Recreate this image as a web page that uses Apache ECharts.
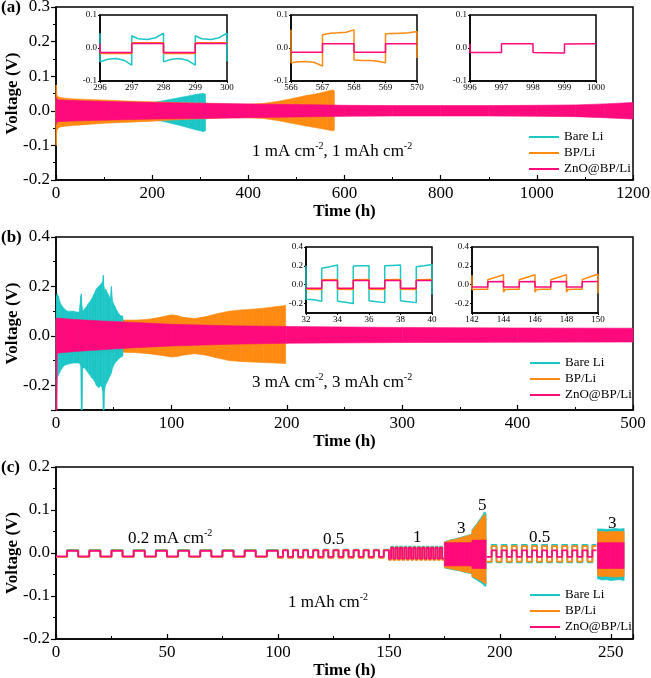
<!DOCTYPE html>
<html><head><meta charset="utf-8">
<script src="https://cdn.jsdelivr.net/npm/echarts@6/dist/echarts.min.js"></script>
<style>html,body{margin:0;padding:0;background:#fff}#c{width:651px;height:678px}</style>
</head><body><div id="c"></div>
<script>
const CYAN = '#1DC6C6', ORANGE = '#FF8A12', PINK = '#FF0A7C';
const FONT = 'Liberation Serif';
const NAMES = ['Bare Li', 'BP/Li', 'ZnO@BP/Li'];

// ---------- Panel (a): 1 mA cm-2, envelope of the cycling band (h, V) ----------
const a_bare_t  = [0, 2, 10, 50, 100, 150, 200, 215, 230, 245, 260, 275, 290, 300, 306, 311];
const a_bare_hi = [0.035, 0.03, 0.026, 0.024, 0.022, 0.021, 0.024, 0.027, 0.031, 0.035, 0.039, 0.043, 0.047, 0.049, 0.05, 0.048];
const a_bare_lo = [-0.04, -0.034, -0.028, -0.026, -0.024, -0.023, -0.026, -0.029, -0.033, -0.038, -0.043, -0.049, -0.055, -0.058, -0.06, -0.058];
const a_bp_t  = [0, 0.5, 1, 2, 5, 10, 30, 60, 100, 150, 200, 250, 300, 350, 400, 430, 460, 490, 520, 545, 565, 575, 579];
const a_bp_hi = [0.07, 0.075, 0.06, 0.045, 0.04, 0.038, 0.035, 0.033, 0.031, 0.028, 0.026, 0.024, 0.022, 0.02, 0.019, 0.021, 0.027, 0.035, 0.044, 0.05, 0.057, 0.06, 0.058];
const a_bp_lo = [-0.1, -0.1, -0.07, -0.055, -0.05, -0.046, -0.043, -0.04, -0.036, -0.033, -0.03, -0.026, -0.023, -0.021, -0.02, -0.022, -0.028, -0.036, -0.044, -0.05, -0.055, -0.058, -0.056];
const a_zno_t  = [0, 1, 3, 10, 50, 100, 200, 300, 400, 500, 600, 700, 800, 900, 1000, 1080, 1140, 1200];
const a_zno_hi = [0.04, 0.034, 0.032, 0.031, 0.029, 0.027, 0.024, 0.022, 0.02, 0.018, 0.016, 0.015, 0.015, 0.015, 0.016, 0.017, 0.02, 0.024];
const a_zno_lo = [-0.04, -0.034, -0.032, -0.031, -0.029, -0.027, -0.024, -0.022, -0.02, -0.018, -0.016, -0.015, -0.015, -0.015, -0.016, -0.017, -0.02, -0.024];

// insets of (a)
const in_a1_bare_t = [296, 296, 296.25, 296.5, 296.75, 297, 297, 297.2, 297.5, 297.75, 298, 298, 298.25, 298.5, 298.75, 299, 299, 299.2, 299.5, 299.75, 300, 300];
const in_a1_bare_v = [0.045, -0.042, -0.034, -0.032, -0.037, -0.052, 0.037, 0.028, 0.026, 0.031, 0.045, -0.042, -0.034, -0.032, -0.037, -0.052, 0.037, 0.028, 0.026, 0.031, 0.045, -0.04];
const in_a1_bp_t = [296, 297, 297, 298, 298, 299, 299, 300];
const in_a1_bp_v = [-0.017, -0.017, 0.016, 0.016, -0.017, -0.017, 0.016, 0.016];
const in_a1_zno_t = [296, 296, 297, 297, 298, 298, 299, 299, 300];
const in_a1_zno_v = [0.014, -0.014, -0.014, 0.014, 0.014, -0.014, -0.014, 0.014, 0.014];
const in_a2_bp_t = [566, 566, 566.25, 566.5, 566.75, 567, 567, 567.25, 567.5, 567.75, 568, 568, 568.25, 568.5, 568.75, 569, 569, 569.25, 569.5, 569.75, 570, 570];
const in_a2_bp_v = [0.055, -0.045, -0.042, -0.041, -0.044, -0.055, 0.04, 0.045, 0.046, 0.048, 0.055, -0.036, -0.038, -0.038, -0.04, -0.045, 0.043, 0.044, 0.045, 0.046, 0.05, -0.03];
const in_a2_zno_t = [566, 567, 567, 568, 568, 569, 569, 570];
const in_a2_zno_v = [-0.013, -0.013, 0.013, 0.013, -0.013, -0.013, 0.013, 0.013];
const in_a3_zno_t = [996, 996, 997, 997, 998, 998, 999, 999, 1000];
const in_a3_zno_v = [0.013, -0.014, -0.014, 0.013, 0.013, -0.014, -0.015, 0.012, 0.013];

// ---------- Panel (b): 3 mA cm-2 ----------
const b_bare_t  = [0, 0.5, 1, 2, 4, 7, 10, 15, 20, 21.5, 22, 22.5, 23, 25, 28, 31, 33, 35, 37, 39, 40.5, 41, 41.5, 42, 43, 45, 47, 48, 49, 51, 53, 55, 57, 58];
const b_bare_hi = [0.06, 0.16, 0.17, 0.16, 0.13, 0.11, 0.1, 0.1, 0.095, 0.16, 0.17, 0.12, 0.1, 0.11, 0.13, 0.15, 0.17, 0.19, 0.2, 0.21, 0.22, 0.245, 0.2, 0.18, 0.19, 0.17, 0.15, 0.2, 0.14, 0.12, 0.1, 0.085, 0.08, 0.08];
const b_bare_lo = [-0.3, -0.3, -0.17, -0.16, -0.14, -0.12, -0.115, -0.11, -0.11, -0.12, -0.3, -0.3, -0.13, -0.13, -0.15, -0.17, -0.18, -0.2, -0.21, -0.2, -0.22, -0.3, -0.3, -0.22, -0.2, -0.18, -0.16, -0.15, -0.13, -0.11, -0.1, -0.09, -0.085, -0.08];
const b_bp_t  = [0, 0.5, 1, 3, 10, 20, 40, 58, 70, 80, 90, 100, 105, 110, 120, 130, 140, 150, 160, 170, 180, 190, 199];
const b_bp_hi = [0.07, 0.07, 0.075, 0.075, 0.072, 0.07, 0.066, 0.064, 0.064, 0.067, 0.075, 0.085, 0.082, 0.075, 0.07, 0.078, 0.09, 0.1, 0.105, 0.108, 0.112, 0.118, 0.123];
const b_bp_lo = [-0.3, -0.3, -0.075, -0.075, -0.073, -0.071, -0.069, -0.066, -0.068, -0.072, -0.078, -0.086, -0.084, -0.078, -0.072, -0.078, -0.09, -0.1, -0.104, -0.106, -0.108, -0.11, -0.112];
const b_zno_t  = [0, 0.5, 1, 5, 20, 40, 60, 100, 150, 200, 300, 400, 500];
const b_zno_hi = [0.07, 0.07, 0.072, 0.07, 0.065, 0.06, 0.056, 0.047, 0.041, 0.038, 0.034, 0.032, 0.031];
const b_zno_lo = [-0.3, -0.3, -0.07, -0.068, -0.062, -0.056, -0.05, -0.041, -0.034, -0.03, -0.027, -0.026, -0.025];

// insets of (b)
const in_b1_bare_t = [32, 32, 32.5, 33, 33, 33.5, 34, 34, 34.5, 35, 35, 35.5, 36, 36, 36.5, 37, 37, 37.5, 38, 38, 38.5, 39, 39, 39.5, 40, 40];
const in_b1_bare_v = [0.2, -0.155, -0.16, -0.175, 0.175, 0.19, 0.21, -0.175, -0.185, -0.2, 0.198, 0.2, 0.2, -0.17, -0.18, -0.19, 0.2, 0.205, 0.21, -0.17, -0.18, -0.19, 0.19, 0.2, 0.215, -0.1];
const in_b1_t = [32, 33, 33, 34, 34, 35, 35, 36, 36, 37, 37, 38, 38, 39, 39, 40];
const in_b1_bp_v  = [-0.048, -0.05, 0.052, 0.056, -0.048, -0.05, 0.052, 0.056, -0.048, -0.05, 0.052, 0.056, -0.048, -0.05, 0.052, 0.056];
const in_b1_zno_v = [-0.038, -0.038, 0.044, 0.046, -0.038, -0.038, 0.044, 0.046, -0.038, -0.038, 0.044, 0.046, -0.038, -0.038, 0.044, 0.046];
const in_b2_bp_t = [142, 142, 142.5, 143, 143, 143.5, 144, 144, 144.1, 144.5, 145, 145, 145.5, 146, 146, 146.1, 146.5, 147, 147, 147.5, 148, 148, 148.1, 148.5, 149, 149, 149.5, 150, 150];
const in_b2_bp_v = [0.1, -0.05, -0.048, -0.048, 0.052, 0.08, 0.105, -0.08, -0.05, -0.048, -0.048, 0.052, 0.08, 0.105, -0.08, -0.05, -0.048, -0.048, 0.052, 0.08, 0.106, -0.08, -0.05, -0.048, -0.048, 0.055, 0.085, 0.11, -0.09];
const in_b2_zno_t = [142, 143, 143, 144, 144, 145, 145, 146, 146, 147, 147, 148, 148, 149, 149, 150];
const in_b2_zno_v = [-0.025, -0.025, 0.032, 0.034, -0.025, -0.025, 0.032, 0.034, -0.025, -0.025, 0.032, 0.034, -0.025, -0.025, 0.032, 0.034];

// ---------- Panel (c): rate test, 1 mAh cm-2 ----------
// switching times (h) of the square waves: 0.2, 0.5, 1 and 0.5 mA cm-2 steps
const c_sw_02  = [0, 5, 10, 15, 20, 25, 30, 35, 40, 45, 50, 55, 60, 65, 70, 75, 80, 85, 90, 95, 100];
const c_sw_05a = [100, 102.3, 104.5, 106.8, 109.1, 111.4, 113.6, 115.9, 118.2, 120.5, 122.7, 125, 127.3, 129.5, 131.8, 134.1, 136.4, 138.6, 140.9, 143.2, 145.5, 147.7, 150];
const c_sw_1   = [150, 151, 152, 153, 154, 155, 156, 157, 158, 159, 160, 161, 162, 163, 164, 165, 166, 167, 168, 169, 170, 171, 172, 173, 174, 175];
const c_sw_05b = [194, 196.3, 198.5, 200.8, 203.1, 205.4, 207.6, 209.9, 212.2, 214.5, 216.7, 219, 221.3, 223.5, 225.8, 228.1, 230.4, 232.6, 234.9, 237.2, 239.5, 241.7, 243.5];
// plateau levels for the four square-wave steps [0.2, 0.5, 1, 0.5]
const c_zno_hi  = [0.005, 0.006, 0.012, 0.006];
const c_zno_lo  = [-0.008, -0.009, -0.013, -0.009];
const c_bp_hi   = [0.006, 0.007, 0.013, 0.016];
const c_bp_lo   = [-0.009, -0.011, -0.016, -0.02];
const c_bare_hi = [0.007, 0.008, 0.015, 0.019];
const c_bare_lo = [-0.009, -0.01, -0.015, -0.022];
// dense blocks (3 and 5 mA cm-2): band envelopes
const c_blk1_t = [175, 176, 178, 180, 182, 184, 186, 187.4, 187.6, 189, 190.5, 192, 193, 193.5, 193.8];
const c_zno_blk1_hi  = [0.024, 0.024, 0.024, 0.024, 0.024, 0.024, 0.024, 0.024, 0.03, 0.03, 0.03, 0.03, 0.03, 0.03, 0.03];
const c_zno_blk1_lo  = [-0.03, -0.03, -0.03, -0.03, -0.03, -0.03, -0.03, -0.03, -0.036, -0.036, -0.036, -0.036, -0.036, -0.036, -0.036];
const c_bp_blk1_hi   = [0.025, 0.027, 0.03, 0.032, 0.035, 0.038, 0.041, 0.043, 0.053, 0.062, 0.072, 0.082, 0.09, 0.085, 0.08];
const c_bp_blk1_lo   = [-0.034, -0.035, -0.037, -0.039, -0.041, -0.044, -0.046, -0.047, -0.055, -0.058, -0.062, -0.066, -0.07, -0.072, -0.07];
const c_bare_blk1_hi = [0.026, 0.028, 0.031, 0.033, 0.036, 0.039, 0.042, 0.044, 0.055, 0.064, 0.075, 0.086, 0.095, 0.094, 0.09];
const c_bare_blk1_lo = [-0.035, -0.036, -0.038, -0.04, -0.042, -0.045, -0.047, -0.048, -0.057, -0.061, -0.066, -0.071, -0.076, -0.078, -0.075];
const c_blk2_t = [244, 246, 248, 250, 252, 254, 256];
const c_zno_blk2_hi  = [0.024, 0.024, 0.024, 0.024, 0.024, 0.024, 0.024];
const c_zno_blk2_lo  = [-0.036, -0.036, -0.036, -0.036, -0.036, -0.036, -0.036];
const c_bp_blk2_hi   = [0.05, 0.05, 0.049, 0.05, 0.05, 0.05, 0.05];
const c_bp_blk2_lo   = [-0.053, -0.055, -0.054, -0.055, -0.056, -0.055, -0.054];
const c_bare_blk2_hi = [0.056, 0.056, 0.055, 0.056, 0.057, 0.056, 0.057];
const c_bare_blk2_lo = [-0.06, -0.063, -0.062, -0.064, -0.063, -0.062, -0.064];

// ---------- helpers ----------
function pairs(t, v) { return t.map((x, i) => [x, v[i]]); }
function steps(sw, lo, hi) {
  const d = [];
  for (let i = 0; i < sw.length - 1; i++) d.push([sw[i], i % 2 === 0 ? lo : hi]);
  d.push([sw[sw.length - 1], (sw.length - 2) % 2 === 0 ? lo : hi]);
  return d;
}
function band(name, color, gi, t, hi, lo) {
  const data = [];
  for (let i = 0; i < t.length - 1; i++) data.push([t[i], hi[i], lo[i], t[i + 1], hi[i + 1], lo[i + 1]]);
  return {
    type: 'custom', name, xAxisIndex: gi, yAxisIndex: gi, itemStyle: { color }, silent: true,
    encode: { x: [0, 3], y: [1, 2, 4, 5] },
    renderItem(params, api) {
      const pts = [api.coord([api.value(0), api.value(1)]), api.coord([api.value(3), api.value(4)]),
                   api.coord([api.value(3), api.value(5)]), api.coord([api.value(0), api.value(2)])];
      const cs = params.coordSys;
      return { type: 'polygon', shape: { points: echarts.graphic.clipPointsByRect(pts, { x: cs.x, y: cs.y, width: cs.width, height: cs.height }) },
               style: { fill: color, stroke: color, lineWidth: 0.6 } };
    },
    data
  };
}
function line(name, color, gi, data, w, step) {
  const s = { type: 'line', name, xAxisIndex: gi, yAxisIndex: gi, data, showSymbol: false, symbol: 'none',
    lineStyle: { color, width: w }, itemStyle: { color }, silent: true, clip: true };
  if (step) s.step = step;
  return s;
}

// ---------- axes ----------
const labelStyle = { color: '#000', fontFamily: FONT, fontSize: 17 };
const nameStyle = { color: '#000', fontFamily: FONT, fontSize: 17, fontWeight: 'bold' };
const plain = v => String(v);
function mkX(gi, min, max, interval, nameGap, extraLabel) {
  return { type: 'value', gridIndex: gi, min, max, interval,
    axisLine: { show: true, onZero: false, lineStyle: { color: '#000', width: 1.5 } },
    axisTick: { show: true, inside: true, length: 5, lineStyle: { color: '#000', width: 1.2 } },
    minorTick: { show: true, splitNumber: 2, length: 3, lineStyle: { color: '#000', width: 1 } },
    splitLine: { show: false }, minorSplitLine: { show: false },
    axisLabel: Object.assign({ margin: 5, formatter: plain }, labelStyle, extraLabel || {}),
    name: 'Time (h)', nameLocation: 'middle', nameGap, nameTextStyle: nameStyle };
}
function mkY(gi, min, max, interval, extra) {
  return Object.assign({ type: 'value', gridIndex: gi, min, max, interval,
    axisLine: { show: true, onZero: false, lineStyle: { color: '#000', width: 1.5 } },
    axisTick: { show: true, inside: false, length: 5, lineStyle: { color: '#000', width: 1.2 } },
    minorTick: { show: true, splitNumber: 2, length: 3, lineStyle: { color: '#000', width: 1 } },
    splitLine: { show: false }, minorSplitLine: { show: false },
    axisLabel: Object.assign({ margin: 6, formatter: v => v.toFixed(1) }, labelStyle),
    name: 'Voltage (V)', nameLocation: 'middle', nameGap: 35, nameMoveOverlap: false, nameTextStyle: nameStyle }, extra || {});
}
const inLabel = { color: '#000', fontFamily: FONT, fontSize: 9 };
function inX(gi, min, max, interval) {
  return { type: 'value', gridIndex: gi, min, max, interval,
    axisLine: { show: true, onZero: false, lineStyle: { color: '#000', width: 1.5 } },
    axisTick: { show: true, inside: false, length: 2, lineStyle: { color: '#000' } },
    splitLine: { show: false }, axisLabel: Object.assign({ margin: 2, formatter: plain }, inLabel) };
}
function inY(gi, min, max, interval, extra) {
  return Object.assign({ type: 'value', gridIndex: gi, min, max, interval,
    axisLine: { show: true, onZero: false, lineStyle: { color: '#000', width: 1.5 } },
    axisTick: { show: true, inside: false, length: 2, lineStyle: { color: '#000' } },
    splitLine: { show: false }, axisLabel: Object.assign({ margin: 3, formatter: v => v.toFixed(1) }, inLabel) }, extra || {});
}

const gridStyle = { show: true, borderColor: '#000', borderWidth: 1.5, backgroundColor: 'transparent', containLabel: false, outerBoundsMode: 'none' };
const grids = [
  { left: 56, top: 7, width: 577, height: 173 },
  { left: 56, top: 237, width: 577, height: 173 },
  { left: 56, top: 467, width: 577, height: 172 },
  { left: 100, top: 15, width: 127, height: 66 },
  { left: 291, top: 15, width: 126, height: 66 },
  { left: 470, top: 15, width: 126, height: 66 },
  { left: 306, top: 247, width: 126, height: 66 },
  { left: 472, top: 247, width: 126, height: 66 }
].map(g => Object.assign({}, gridStyle, g));

const xAxes = [
  mkX(0, 0, 1200, 200, 20),
  mkX(1, 0, 500, 100, 22),
  mkX(2, 0, 260, 50, 20, { showMaxLabel: false }),
  inX(3, 296, 300, 1), inX(4, 566, 570, 1), inX(5, 996, 1000, 1),
  inX(6, 32, 40, 2), inX(7, 142, 150, 2)
];
const yAxes = [
  mkY(0, -0.2, 0.3, 0.1),
  mkY(1, -0.3, 0.4, undefined, { splitNumber: 3, axisLabel: Object.assign({ margin: 6, showMinLabel: false, formatter: v => v.toFixed(1) }, labelStyle) }),
  mkY(2, -0.2, 0.2, 0.1),
  inY(3, -0.1, 0.1, 0.1), inY(4, -0.1, 0.1, 0.1), inY(5, -0.1, 0.1, 0.1),
  inY(6, -0.3, 0.4, undefined, { splitNumber: 3, axisLabel: Object.assign({ margin: 3, showMinLabel: false, formatter: v => v.toFixed(1) }, inLabel) }),
  inY(7, -0.3, 0.4, undefined, { splitNumber: 3, axisLabel: Object.assign({ margin: 3, showMinLabel: false, formatter: v => v.toFixed(1) }, inLabel) })
];

// ---------- series ----------
const series = [];
// (a)
series.push(band(NAMES[0], CYAN, 0, a_bare_t, a_bare_hi, a_bare_lo));
series.push(band(NAMES[1], ORANGE, 0, a_bp_t, a_bp_hi, a_bp_lo));
series.push(band(NAMES[2], PINK, 0, a_zno_t, a_zno_hi, a_zno_lo));
// (b)
series.push(band(NAMES[1], ORANGE, 1, b_bp_t, b_bp_hi, b_bp_lo));
series.push(band(NAMES[0], CYAN, 1, b_bare_t, b_bare_hi, b_bare_lo));
series.push(band(NAMES[2], PINK, 1, b_zno_t, b_zno_hi, b_zno_lo));
// (c)
function cSteps(lo, hi) {
  return steps(c_sw_02, lo[0], hi[0]).concat(steps(c_sw_05a, lo[1], hi[1]), steps(c_sw_1, lo[2], hi[2]));
}
series.push(line(NAMES[0], CYAN, 2, cSteps(c_bare_lo, c_bare_hi), 1.8, 'end'));
series.push(line(NAMES[0], CYAN, 2, steps(c_sw_05b, c_bare_lo[3], c_bare_hi[3]), 1.8, 'end'));
series.push(band(NAMES[0], CYAN, 2, c_blk1_t, c_bare_blk1_hi, c_bare_blk1_lo));
series.push(band(NAMES[0], CYAN, 2, c_blk2_t, c_bare_blk2_hi, c_bare_blk2_lo));
series.push(line(NAMES[1], ORANGE, 2, cSteps(c_bp_lo, c_bp_hi), 1.8, 'end'));
series.push(line(NAMES[1], ORANGE, 2, steps(c_sw_05b, c_bp_lo[3], c_bp_hi[3]), 1.8, 'end'));
series.push(band(NAMES[1], ORANGE, 2, c_blk1_t, c_bp_blk1_hi, c_bp_blk1_lo));
series.push(band(NAMES[1], ORANGE, 2, c_blk2_t, c_bp_blk2_hi, c_bp_blk2_lo));
series.push(line(NAMES[2], PINK, 2, cSteps(c_zno_lo, c_zno_hi), 1.8, 'end'));
series.push(line(NAMES[2], PINK, 2, steps(c_sw_05b, c_zno_lo[3], c_zno_hi[3]), 1.8, 'end'));
series.push(band(NAMES[2], PINK, 2, c_blk1_t, c_zno_blk1_hi, c_zno_blk1_lo));
series.push(band(NAMES[2], PINK, 2, c_blk2_t, c_zno_blk2_hi, c_zno_blk2_lo));
// insets
series.push(line(NAMES[0], CYAN, 3, pairs(in_a1_bare_t, in_a1_bare_v), 1.5));
series.push(line(NAMES[1], ORANGE, 3, pairs(in_a1_bp_t, in_a1_bp_v), 1.5));
series.push(line(NAMES[2], PINK, 3, pairs(in_a1_zno_t, in_a1_zno_v), 1.5));
series.push(line(NAMES[1], ORANGE, 4, pairs(in_a2_bp_t, in_a2_bp_v), 1.5));
series.push(line(NAMES[2], PINK, 4, pairs(in_a2_zno_t, in_a2_zno_v), 1.5));
series.push(line(NAMES[2], PINK, 5, pairs(in_a3_zno_t, in_a3_zno_v), 1.5));
series.push(line(NAMES[0], CYAN, 6, pairs(in_b1_bare_t, in_b1_bare_v), 1.5));
series.push(line(NAMES[1], ORANGE, 6, pairs(in_b1_t, in_b1_bp_v), 1.5));
series.push(line(NAMES[2], PINK, 6, pairs(in_b1_t, in_b1_zno_v), 1.5));
series.push(line(NAMES[1], ORANGE, 7, pairs(in_b2_bp_t, in_b2_bp_v), 1.5));
series.push(line(NAMES[2], PINK, 7, pairs(in_b2_zno_t, in_b2_zno_v), 1.5));

// ---------- legends ----------
function mkLegend(left, top) {
  return { orient: 'vertical', left, top, padding: 0, itemGap: 0, icon: 'rect', itemWidth: 30, itemHeight: 2,
    selectedMode: false, data: NAMES,
    textStyle: { fontFamily: FONT, fontSize: 13, color: '#000', lineHeight: 16 } };
}

// ---------- text ----------
const supRich = { s: { fontFamily: FONT, fontSize: 10, fill: '#000', verticalAlign: 'top', lineHeight: 10 } };
function txt(x, y, text, bold) {
  return { type: 'text', x, y, silent: true,
    style: { text, fill: '#000', fontFamily: FONT, fontSize: 17, fontWeight: bold ? 'bold' : 'normal',
             lineHeight: 22, align: 'left', verticalAlign: 'middle', rich: supRich } };
}
const graphics = [
  txt(1, 8, '(a)', true), txt(1, 238, '(b)', true), txt(1, 468, '(c)', true),
  txt(252, 152, '1 mA cm{s|-2}, 1 mAh cm{s|-2}'),
  txt(252, 383, '3 mA cm{s|-2}, 3 mAh cm{s|-2}'),
  txt(128, 539, '0.2 mA cm{s|-2}'),
  txt(323, 540, '0.5'), txt(413, 538, '1'), txt(457, 529, '3'), txt(478, 506, '5'),
  txt(529, 538, '0.5'), txt(608, 524, '3'),
  txt(288, 603, '1 mAh cm{s|-2}')
];

const chart = echarts.init(document.getElementById('c'), null, { renderer: 'canvas' });
chart.setOption({
  animation: false,
  backgroundColor: '#fff',
  textStyle: { fontFamily: FONT },
  grid: grids, xAxis: xAxes, yAxis: yAxes, series,
  legend: [mkLegend(529, 129), mkLegend(530, 355), mkLegend(530, 587)],
  graphic: graphics
});
</script></body></html>
